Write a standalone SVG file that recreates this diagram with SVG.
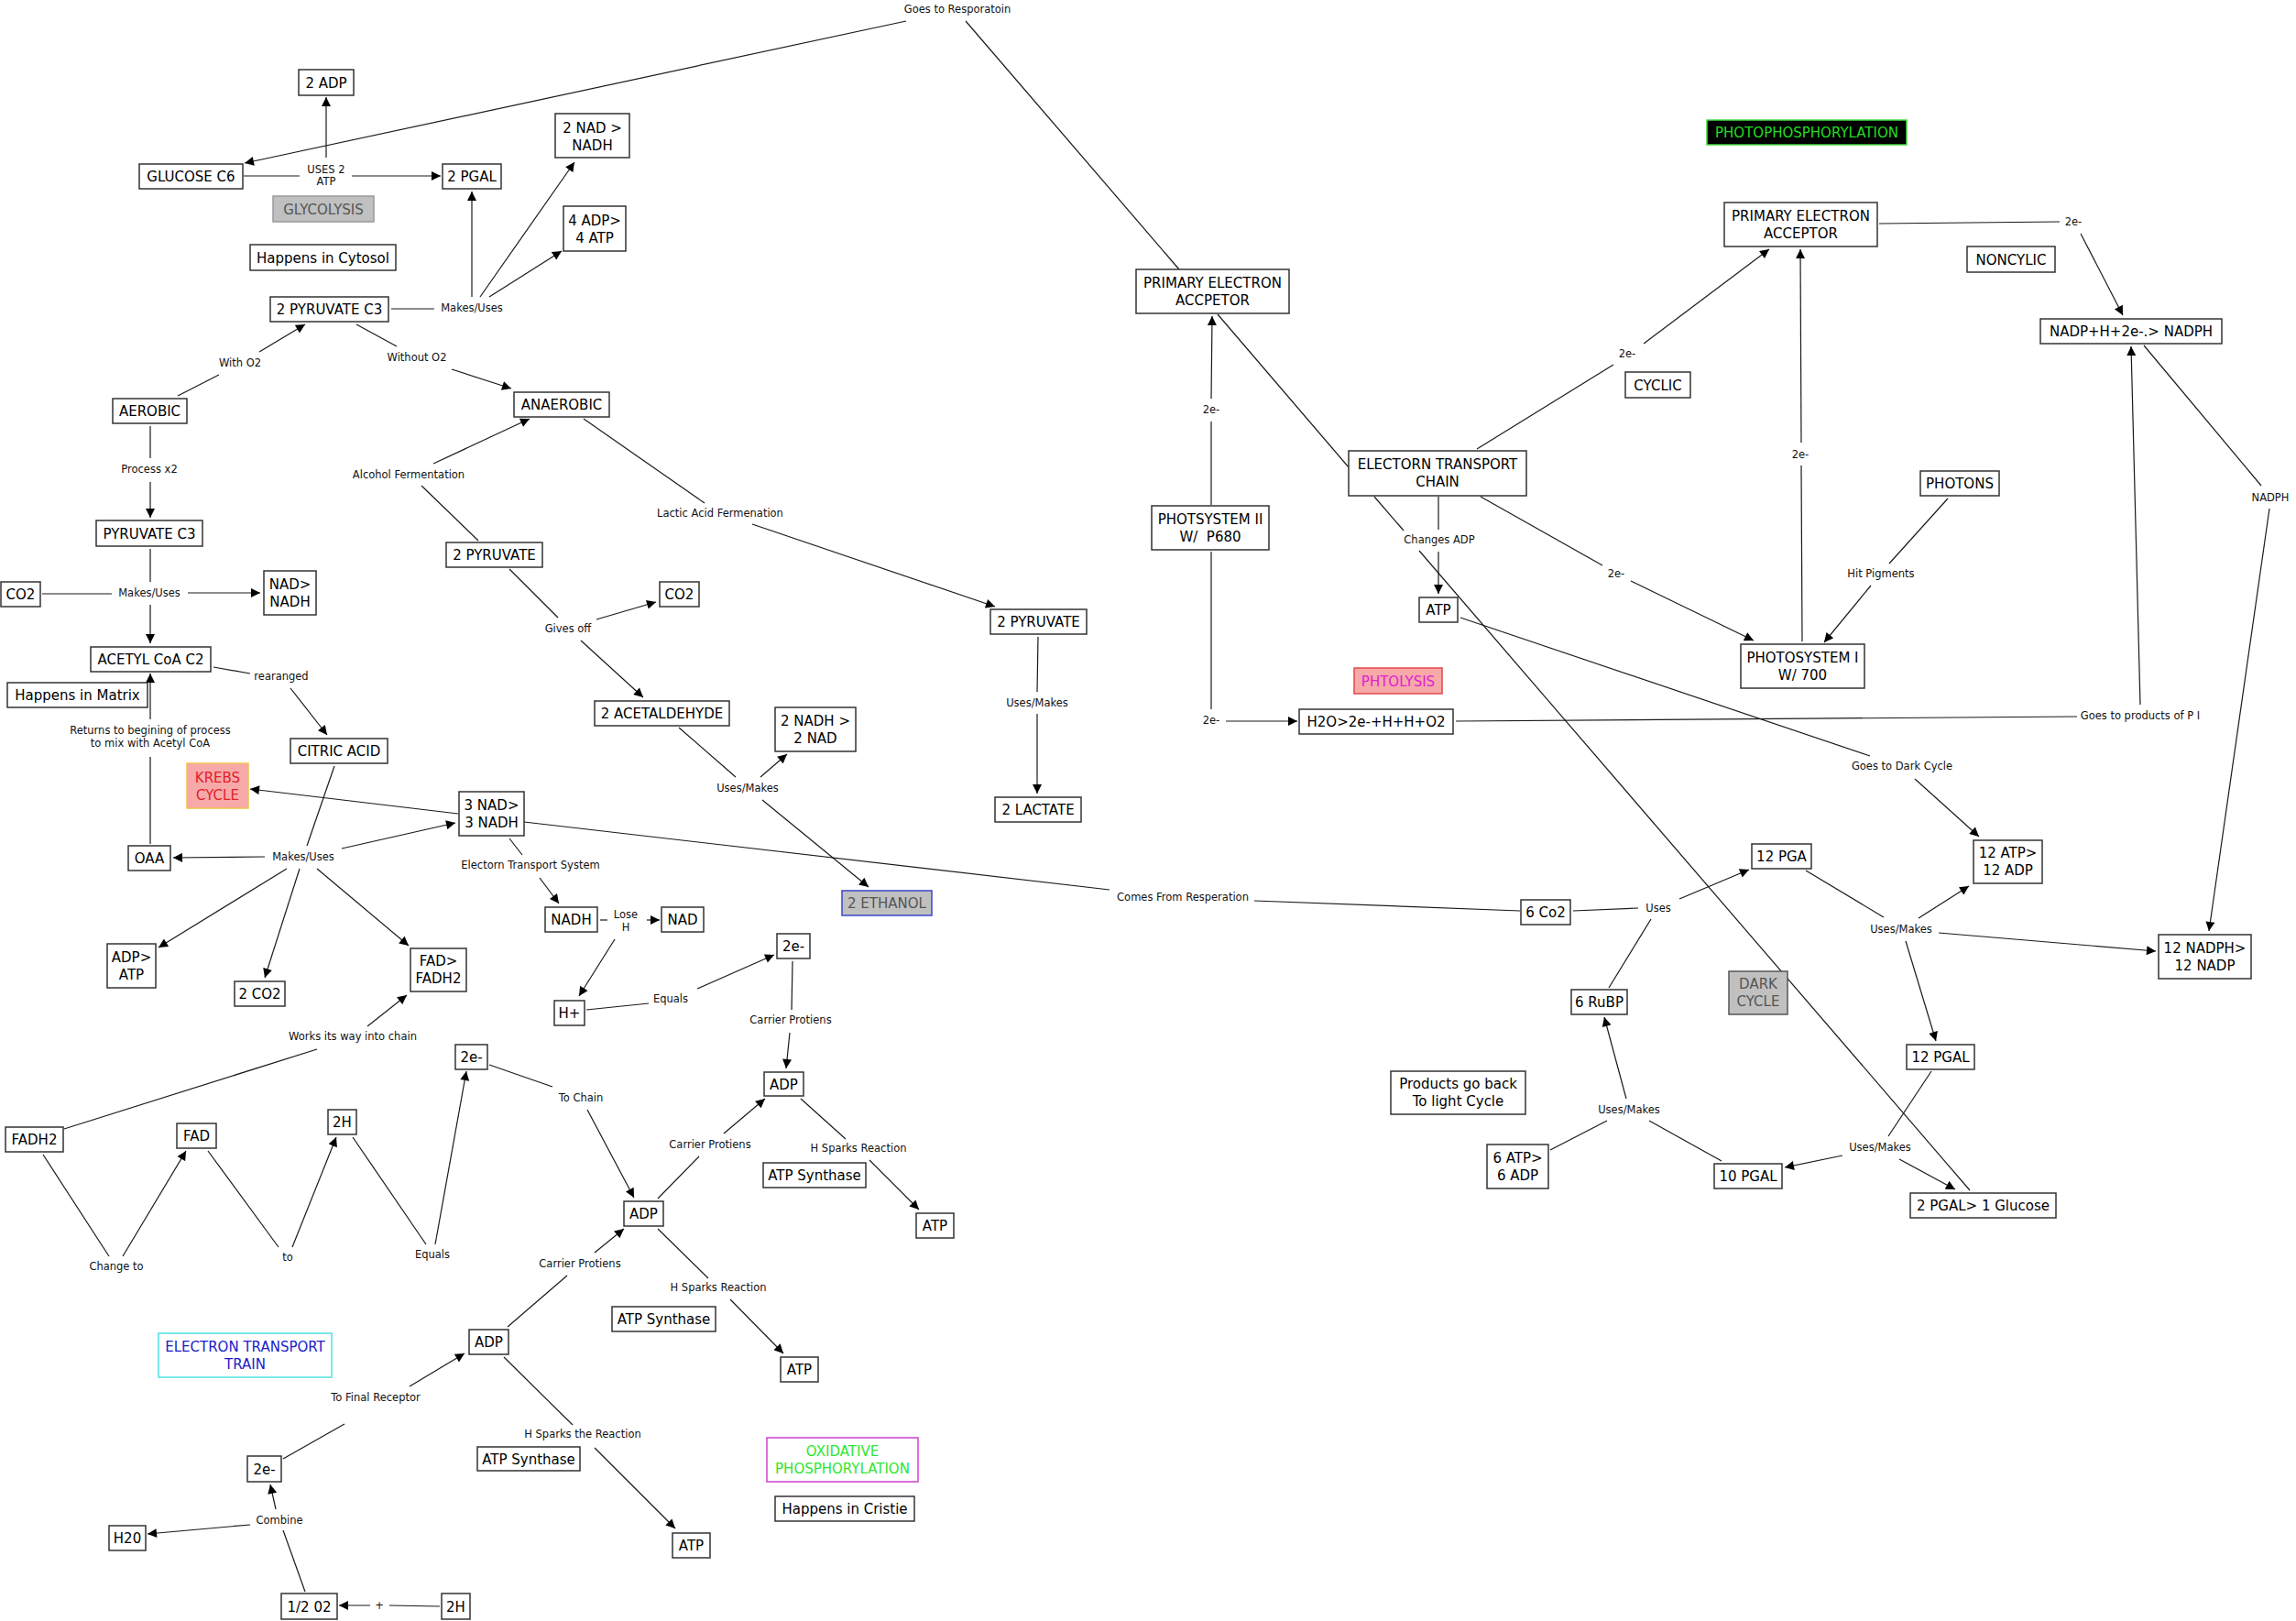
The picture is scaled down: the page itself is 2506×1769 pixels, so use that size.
<svg xmlns="http://www.w3.org/2000/svg" width="2506" height="1769" viewBox="0 0 2506 1769">
<style>
.n rect{fill:#fff;stroke:#333;stroke-width:1.5}
.n text{font-family:"DejaVu Sans",Verdana,sans-serif;font-size:15px;text-anchor:middle;fill:#000}
.gray rect{fill:#c0c0c0;stroke:#999}
.gray text{fill:#555}
#connectors path{fill:none;stroke:#1a1a1a;stroke-width:1.2}
#connectors path.ar{marker-end:url(#a)}
#connectors text{font-family:"DejaVu Sans",Verdana,sans-serif;font-size:11.5px;text-anchor:middle;fill:#111}
</style>
<defs>
<marker id="a" viewBox="0 0 10 10" markerWidth="11" markerHeight="10" refX="10" refY="5" orient="auto" markerUnits="userSpaceOnUse">
<path d="M0,0 L10,5 L0,10 z" fill="#000"/>
</marker>
</defs>
<rect width="2506" height="1769" fill="#fff"/>
<g id="connectors">
<path class="ar" d="M989,23 L267,178"/>
<path d="M1054,23 L1287,294"/>
<path d="M266,192 L327,192"/>
<path class="ar" d="M384,192 L481,192"/>
<path class="ar" d="M356,172 L356,106"/>
<path d="M427,337 L474,337"/>
<path class="ar" d="M515,324 L515,209"/>
<path class="ar" d="M524,324 L627,177"/>
<path class="ar" d="M534,324 L613,274"/>
<path d="M194,432 L239,409"/>
<path class="ar" d="M283,384 L333,354"/>
<path d="M389,354 L433,378"/>
<path class="ar" d="M493,403 L558,424"/>
<path d="M164,465 L164,500"/>
<path class="ar" d="M164,526 L164,565"/>
<path d="M522,590 L460,530"/>
<path class="ar" d="M473,506 L578,457"/>
<path d="M637,457 L769,549"/>
<path class="ar" d="M821,572 L1086,662"/>
<path d="M164,599 L164,635"/>
<path class="ar" d="M164,660 L164,702"/>
<path d="M46,648 L122,648"/>
<path class="ar" d="M205,647 L284,647"/>
<path d="M233,728 L273,735"/>
<path class="ar" d="M317,751 L357,802"/>
<path d="M164,921 L164,826"/>
<path class="ar" d="M164,785 L164,735"/>
<path d="M365,836 L335,923"/>
<path class="ar" d="M289,935 L189,936"/>
<path class="ar" d="M373,926 L497,898"/>
<path class="ar" d="M313,948 L173,1034"/>
<path class="ar" d="M327,948 L289,1067"/>
<path class="ar" d="M346,948 L446,1032"/>
<path class="ar" d="M500,888 L273,861"/>
<path d="M572,897 L1211,971"/>
<path d="M1369,983 L1659,994"/>
<path d="M556,915 L570,933"/>
<path class="ar" d="M589,958 L610,986"/>
<path d="M70,1232 L346,1145"/>
<path class="ar" d="M401,1120 L444,1086"/>
<path d="M556,621 L609,674"/>
<path class="ar" d="M651,676 L716,657"/>
<path class="ar" d="M634,699 L702,761"/>
<path d="M1133,695 L1132,755"/>
<path class="ar" d="M1132,779 L1132,866"/>
<path d="M741,794 L803,848"/>
<path class="ar" d="M830,848 L859,823"/>
<path class="ar" d="M832,873 L948,968"/>
<path d="M655,1004 L663,1004"/>
<path class="ar" d="M706,1004 L720,1004"/>
<path class="ar" d="M671,1025 L632,1087"/>
<path d="M640,1102 L708,1095"/>
<path class="ar" d="M761,1079 L845,1042"/>
<path d="M865,1049 L864,1102"/>
<path class="ar" d="M862,1127 L858,1166"/>
<path d="M534,1162 L603,1186"/>
<path class="ar" d="M641,1211 L692,1307"/>
<path d="M718,1308 L763,1262"/>
<path class="ar" d="M790,1237 L835,1199"/>
<path d="M874,1199 L923,1243"/>
<path class="ar" d="M949,1266 L1003,1320"/>
<path d="M718,1341 L773,1395"/>
<path class="ar" d="M797,1418 L855,1477"/>
<path d="M554,1448 L619,1392"/>
<path class="ar" d="M649,1367 L681,1341"/>
<path d="M550,1481 L625,1555"/>
<path class="ar" d="M649,1580 L737,1668"/>
<path d="M47,1260 L119,1371"/>
<path class="ar" d="M134,1371 L203,1256"/>
<path d="M227,1256 L304,1361"/>
<path class="ar" d="M319,1361 L367,1241"/>
<path d="M385,1241 L465,1358"/>
<path class="ar" d="M475,1358 L509,1169"/>
<path class="ar" d="M447,1513 L507,1477"/>
<path d="M309,1592 L376,1554"/>
<path class="ar" d="M301,1647 L295,1620"/>
<path class="ar" d="M273,1664 L161,1674"/>
<path d="M333,1737 L309,1670"/>
<path d="M480,1753 L425,1752"/>
<path class="ar" d="M404,1752 L370,1752"/>
<path class="ar" d="M1322,435 L1323,345"/>
<path d="M1322,551 L1322,460"/>
<path d="M1329,343 L1472,510"/>
<path d="M1612,490 L1761,398"/>
<path class="ar" d="M1794,375 L1931,272"/>
<path d="M1500,542 L1532,579"/>
<path d="M1549,601 L2150,1299"/>
<path d="M1570,542 L1570,578"/>
<path class="ar" d="M1570,602 L1570,648"/>
<path d="M1616,542 L1749,617"/>
<path class="ar" d="M1780,634 L1914,699"/>
<path d="M1322,602 L1322,774"/>
<path class="ar" d="M1338,787 L1416,787"/>
<path d="M1589,787 L2267,782"/>
<path d="M1594,674 L2041,825"/>
<path class="ar" d="M2090,850 L2160,913"/>
<path d="M1717,994 L1788,991"/>
<path class="ar" d="M1833,981 L1909,949"/>
<path d="M1756,1078 L1802,1003"/>
<path class="ar" d="M1775,1199 L1751,1110"/>
<path d="M1754,1223 L1692,1255"/>
<path d="M1800,1223 L1879,1267"/>
<path class="ar" d="M2011,1261 L1948,1274"/>
<path class="ar" d="M2073,1265 L2134,1298"/>
<path d="M2108,1169 L2061,1240"/>
<path d="M1971,950 L2056,1001"/>
<path class="ar" d="M2094,1002 L2149,967"/>
<path class="ar" d="M2116,1018 L2353,1038"/>
<path class="ar" d="M2080,1027 L2113,1136"/>
<path d="M2126,544 L2062,615"/>
<path class="ar" d="M2042,639 L1991,701"/>
<path d="M1967,700 L1966,508"/>
<path class="ar" d="M1966,483 L1965,272"/>
<path class="ar" d="M2336,769 L2326,378"/>
<path d="M2051,244 L2248,242"/>
<path class="ar" d="M2271,255 L2317,344"/>
<path d="M2340,377 L2468,530"/>
<path class="ar" d="M2477,555 L2411,1016"/>
<text x="1045" y="14">Goes to Resporatoin</text>
<text x="356" y="189">USES 2</text>
<text x="356" y="202">ATP</text>
<text x="515" y="340">Makes/Uses</text>
<text x="262" y="400">With O2</text>
<text x="455" y="394">Without O2</text>
<text x="163" y="516">Process x2</text>
<text x="446" y="522">Alcohol Fermentation</text>
<text x="786" y="564">Lactic Acid Fermenation</text>
<text x="163" y="651">Makes/Uses</text>
<text x="307" y="742">rearanged</text>
<text x="164" y="801">Returns to begining of process</text>
<text x="164" y="815">to mix with Acetyl CoA</text>
<text x="331" y="939">Makes/Uses</text>
<text x="579" y="948">Electorn Transport System</text>
<text x="385" y="1135">Works its way into chain</text>
<text x="620" y="690">Gives off</text>
<text x="816" y="864">Uses/Makes</text>
<text x="1132" y="771">Uses/Makes</text>
<text x="683" y="1002">Lose</text>
<text x="683" y="1016">H</text>
<text x="732" y="1094">Equals</text>
<text x="863" y="1117">Carrier Protiens</text>
<text x="634" y="1202">To Chain</text>
<text x="775" y="1253">Carrier Protiens</text>
<text x="937" y="1257">H Sparks Reaction</text>
<text x="633" y="1383">Carrier Protiens</text>
<text x="784" y="1409">H Sparks Reaction</text>
<text x="127" y="1386">Change to</text>
<text x="314" y="1376">to</text>
<text x="472" y="1373">Equals</text>
<text x="410" y="1529">To Final Receptor</text>
<text x="636" y="1569">H Sparks the Reaction</text>
<text x="305" y="1663">Combine</text>
<text x="414" y="1756">+</text>
<text x="1291" y="983">Comes From Resperation</text>
<text x="1322" y="451">2e-</text>
<text x="1322" y="790">2e-</text>
<text x="1571" y="593">Changes ADP</text>
<text x="1776" y="390">2e-</text>
<text x="1764" y="630">2e-</text>
<text x="2263" y="246">2e-</text>
<text x="1965" y="500">2e-</text>
<text x="2053" y="630">Hit Pigments</text>
<text x="2336" y="785">Goes to products of P I</text>
<text x="2478" y="547">NADPH</text>
<text x="2076" y="840">Goes to Dark Cycle</text>
<text x="1810" y="995">Uses</text>
<text x="2075" y="1018">Uses/Makes</text>
<text x="1778" y="1215">Uses/Makes</text>
<text x="2052" y="1256">Uses/Makes</text>
</g>
<g id="n2adp" class="n"><rect x="326" y="76" width="60" height="28"/><text x="356" y="96">2 ADP</text></g>
<g id="glucose" class="n"><rect x="152" y="179" width="113" height="27"/><text x="208.5" y="198">GLUCOSE C6</text></g>
<g id="n2pgal" class="n"><rect x="483" y="179" width="64" height="27"/><text x="515" y="198">2 PGAL</text></g>
<g id="glycolysis" class="n gray"><rect x="298" y="214" width="110" height="28"/><text x="353" y="234">GLYCOLYSIS</text></g>
<g id="cytosol" class="n"><rect x="273" y="267" width="159" height="28"/><text x="352.5" y="287">Happens in Cytosol</text></g>
<g id="n2nadnadh" class="n"><rect x="606" y="124" width="81" height="48"/><text x="646.5" y="145">2 NAD &gt;</text><text x="646.5" y="164">NADH</text></g>
<g id="n4adp" class="n"><rect x="615" y="225" width="68" height="49"/><text x="649" y="246">4 ADP&gt;</text><text x="649" y="265">4 ATP</text></g>
<g id="pyruvate2c3" class="n"><rect x="295" y="324" width="129" height="27"/><text x="359.5" y="343">2 PYRUVATE C3</text></g>
<g id="aerobic" class="n"><rect x="123" y="435" width="81" height="27"/><text x="163.5" y="454">AEROBIC</text></g>
<g id="anaerobic" class="n"><rect x="561" y="428" width="104" height="27"/><text x="613" y="447">ANAEROBIC</text></g>
<g id="pyruvatec3" class="n"><rect x="105" y="568" width="116" height="28"/><text x="163" y="588">PYRUVATE C3</text></g>
<g id="co2left" class="n"><rect x="1" y="635" width="43" height="27"/><text x="22.5" y="654">CO2</text></g>
<g id="nadnadh" class="n"><rect x="288" y="623" width="57" height="48"/><text x="316.5" y="643">NAD&gt;</text><text x="316.5" y="662">NADH</text></g>
<g id="acetyl" class="n"><rect x="99" y="706" width="131" height="27"/><text x="164.5" y="725">ACETYL CoA C2</text></g>
<g id="matrix" class="n"><rect x="8" y="745" width="153" height="27"/><text x="84.5" y="764">Happens in Matrix</text></g>
<g id="citric" class="n"><rect x="317" y="806" width="106" height="27"/><text x="370" y="825">CITRIC ACID</text></g>
<g id="krebs" class="n"><rect x="204" y="833" width="67" height="49" style="fill:#f7a9a9;stroke:#f2c24a"/><text x="237.5" y="854" style="fill:#e0202a">KREBS</text><text x="237.5" y="873" style="fill:#e0202a">CYCLE</text></g>
<g id="n3nad" class="n"><rect x="501" y="864" width="71" height="48"/><text x="536.5" y="884">3 NAD&gt;</text><text x="536.5" y="903">3 NADH</text></g>
<g id="oaa" class="n"><rect x="140" y="923" width="46" height="27"/><text x="163" y="942">OAA</text></g>
<g id="adpatp" class="n"><rect x="117" y="1030" width="53" height="48"/><text x="143.5" y="1050">ADP&gt;</text><text x="143.5" y="1069">ATP</text></g>
<g id="n2co2" class="n"><rect x="256" y="1071" width="55" height="27"/><text x="283.5" y="1090">2 CO2</text></g>
<g id="fadfadh2" class="n"><rect x="448" y="1035" width="61" height="47"/><text x="478.5" y="1054">FAD&gt;</text><text x="478.5" y="1073">FADH2</text></g>
<g id="pyrmid" class="n"><rect x="487" y="592" width="105" height="27"/><text x="539.5" y="611">2 PYRUVATE</text></g>
<g id="co2mid" class="n"><rect x="720" y="635" width="43" height="27"/><text x="741.5" y="654">CO2</text></g>
<g id="acetald" class="n"><rect x="649" y="765" width="147" height="27"/><text x="722.5" y="784">2 ACETALDEHYDE</text></g>
<g id="n2nadh" class="n"><rect x="846" y="772" width="88" height="48"/><text x="890" y="792">2 NADH &gt;</text><text x="890" y="811">2 NAD</text></g>
<g id="ethanol" class="n gray"><rect x="919" y="972" width="98" height="27" style="stroke:#3a46c8"/><text x="968" y="991">2 ETHANOL</text></g>
<g id="pyrright" class="n"><rect x="1081" y="665" width="105" height="27"/><text x="1133.5" y="684">2 PYRUVATE</text></g>
<g id="lactate" class="n"><rect x="1086" y="870" width="94" height="27"/><text x="1133" y="889">2 LACTATE</text></g>
<g id="nadh" class="n"><rect x="595" y="990" width="57" height="27"/><text x="623.5" y="1009">NADH</text></g>
<g id="nad" class="n"><rect x="722" y="990" width="46" height="27"/><text x="745" y="1009">NAD</text></g>
<g id="hplus" class="n"><rect x="605" y="1092" width="33" height="27"/><text x="621.5" y="1111">H+</text></g>
<g id="e2a" class="n"><rect x="848" y="1019" width="36" height="27"/><text x="866" y="1038">2e-</text></g>
<g id="adpa" class="n"><rect x="834" y="1170" width="43" height="26"/><text x="855.5" y="1189">ADP</text></g>
<g id="synta" class="n"><rect x="833" y="1269" width="112" height="27"/><text x="889" y="1288">ATP Synthase</text></g>
<g id="atpa" class="n"><rect x="1000" y="1324" width="41" height="27"/><text x="1020.5" y="1343">ATP</text></g>
<g id="e2b" class="n"><rect x="497" y="1140" width="35" height="27"/><text x="514.5" y="1159">2e-</text></g>
<g id="adpb" class="n"><rect x="681" y="1311" width="43" height="27"/><text x="702.5" y="1330">ADP</text></g>
<g id="syntb" class="n"><rect x="668" y="1426" width="113" height="27"/><text x="724.5" y="1445">ATP Synthase</text></g>
<g id="atpb" class="n"><rect x="852" y="1481" width="41" height="27"/><text x="872.5" y="1500">ATP</text></g>
<g id="fadh2" class="n"><rect x="6" y="1230" width="63" height="27"/><text x="37.5" y="1249">FADH2</text></g>
<g id="fad" class="n"><rect x="193" y="1226" width="43" height="27"/><text x="214.5" y="1245">FAD</text></g>
<g id="h2a" class="n"><rect x="358" y="1211" width="31" height="27"/><text x="373.5" y="1230">2H</text></g>
<g id="ett" class="n"><rect x="173" y="1455" width="189" height="48" style="stroke:#4fe0e0"/><text x="267.5" y="1475" style="fill:#1c1cc8">ELECTRON TRANSPORT</text><text x="267.5" y="1494" style="fill:#1c1cc8">TRAIN</text></g>
<g id="adpc" class="n"><rect x="512" y="1451" width="43" height="27"/><text x="533.5" y="1470">ADP</text></g>
<g id="syntc" class="n"><rect x="521" y="1579" width="112" height="26"/><text x="577" y="1598">ATP Synthase</text></g>
<g id="atpc" class="n"><rect x="734" y="1673" width="41" height="27"/><text x="754.5" y="1692">ATP</text></g>
<g id="e2c" class="n"><rect x="270" y="1589" width="37" height="28"/><text x="288.5" y="1609">2e-</text></g>
<g id="h20" class="n"><rect x="119" y="1665" width="40" height="27"/><text x="139" y="1684">H20</text></g>
<g id="halfo2" class="n"><rect x="307" y="1739" width="61" height="28"/><text x="337.5" y="1759">1/2 02</text></g>
<g id="h2b" class="n"><rect x="482" y="1739" width="31" height="28"/><text x="497.5" y="1759">2H</text></g>
<g id="oxphos" class="n"><rect x="837" y="1569" width="165" height="48" style="stroke:#d040d0"/><text x="919.5" y="1589" style="fill:#2ee62e">OXIDATIVE</text><text x="919.5" y="1608" style="fill:#2ee62e">PHOSPHORYLATION</text></g>
<g id="cristie" class="n"><rect x="846" y="1633" width="152" height="27"/><text x="922" y="1652">Happens in Cristie</text></g>
<g id="pea1" class="n"><rect x="1240" y="294" width="167" height="48"/><text x="1323.5" y="314">PRIMARY ELECTRON</text><text x="1323.5" y="333">ACCPETOR</text></g>
<g id="psii" class="n"><rect x="1257" y="552" width="128" height="48"/><text x="1321" y="572">PHOTSYSTEM II</text><text x="1321" y="591" xml:space="preserve">W/  P680</text></g>
<g id="etc" class="n"><rect x="1472" y="492" width="194" height="49"/><text x="1569" y="512">ELECTORN TRANSPORT</text><text x="1569" y="531">CHAIN</text></g>
<g id="atpd" class="n"><rect x="1549" y="652" width="42" height="27"/><text x="1570" y="671">ATP</text></g>
<g id="phtolysis" class="n"><rect x="1478" y="729" width="96" height="28" style="fill:#f7a9a9;stroke:#e04848"/><text x="1526" y="749" style="fill:#e020d0">PHTOLYSIS</text></g>
<g id="h2o" class="n"><rect x="1418" y="774" width="168" height="27"/><text x="1502" y="793">H2O&gt;2e-+H+H+O2</text></g>
<g id="cyclic" class="n"><rect x="1774" y="406" width="71" height="28"/><text x="1809.5" y="426">CYCLIC</text></g>
<g id="photophos" class="n"><rect x="1863" y="131" width="218" height="27" style="fill:#000;stroke:#44dd44"/><text x="1972" y="150" style="fill:#22dd22">PHOTOPHOSPHORYLATION</text></g>
<g id="pea2" class="n"><rect x="1882" y="221" width="167" height="48"/><text x="1965.5" y="241">PRIMARY ELECTRON</text><text x="1965.5" y="260">ACCEPTOR</text></g>
<g id="noncylic" class="n"><rect x="2147" y="269" width="96" height="28"/><text x="2195" y="289">NONCYLIC</text></g>
<g id="nadph" class="n"><rect x="2227" y="348" width="198" height="27"/><text x="2326" y="367">NADP+H+2e-.&gt; NADPH</text></g>
<g id="photons" class="n"><rect x="2096" y="514" width="86" height="27"/><text x="2139" y="533">PHOTONS</text></g>
<g id="psi" class="n"><rect x="1900" y="703" width="135" height="48"/><text x="1967.5" y="723">PHOTOSYSTEM I</text><text x="1967.5" y="742">W/ 700</text></g>
<g id="atp12" class="n"><rect x="2154" y="917" width="75" height="47"/><text x="2191.5" y="936">12 ATP&gt;</text><text x="2191.5" y="955">12 ADP</text></g>
<g id="pga12" class="n"><rect x="1912" y="921" width="65" height="27"/><text x="1944.5" y="940">12 PGA</text></g>
<g id="co26" class="n"><rect x="1660" y="982" width="54" height="27"/><text x="1687" y="1001">6 Co2</text></g>
<g id="nadph12" class="n"><rect x="2356" y="1020" width="101" height="48"/><text x="2406.5" y="1040">12 NADPH&gt;</text><text x="2406.5" y="1059">12 NADP</text></g>
<g id="dark" class="n gray"><rect x="1887" y="1060" width="64" height="47" style="stroke:#555"/><text x="1919" y="1079">DARK</text><text x="1919" y="1098">CYCLE</text></g>
<g id="rubp6" class="n"><rect x="1715" y="1080" width="61" height="27"/><text x="1745.5" y="1099">6 RuBP</text></g>
<g id="pgal12" class="n"><rect x="2081" y="1140" width="74" height="27"/><text x="2118" y="1159">12 PGAL</text></g>
<g id="products" class="n"><rect x="1518" y="1169" width="147" height="47"/><text x="1591.5" y="1188">Products go back</text><text x="1591.5" y="1207">To light Cycle</text></g>
<g id="atp6" class="n"><rect x="1623" y="1249" width="67" height="48"/><text x="1656.5" y="1269">6 ATP&gt;</text><text x="1656.5" y="1288">6 ADP</text></g>
<g id="pgal10" class="n"><rect x="1871" y="1270" width="74" height="27"/><text x="1908" y="1289">10 PGAL</text></g>
<g id="glucose2" class="n"><rect x="2085" y="1302" width="159" height="27"/><text x="2164.5" y="1321">2 PGAL&gt; 1 Glucose</text></g>
</svg>
